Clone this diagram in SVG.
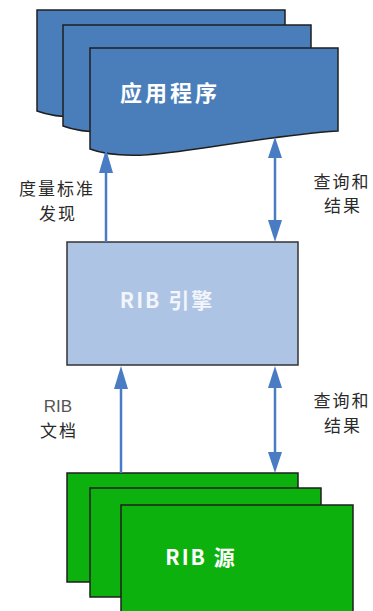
<svg xmlns="http://www.w3.org/2000/svg" width="373" height="611" viewBox="0 0 373 611">
<style>
.doc{fill:#4a7ebb;stroke:#1f1f1f;stroke-width:1.5}
.eng{fill:#aec4e4;stroke:#333;stroke-width:1.5}
.src{fill:#0db10d;stroke:#1f1f1f;stroke-width:1.5}
.ln{stroke:#4a7cc4;stroke-width:2.5;fill:none}
.ah{fill:#4a7cc4}
.lbl{font-family:"Noto Sans CJK SC","Noto Sans",sans-serif;font-size:17px;fill:#2a2a2a;text-anchor:middle;letter-spacing:2px}
.ttl{font-family:"Noto Sans CJK SC","Noto Sans",sans-serif;font-size:21px;font-weight:bold;fill:#fff;text-anchor:middle;letter-spacing:2px}
</style>
<defs>
<path id="docshape" d="M90,48 H338 V131 C230,138 140,168 90,149 Z"/>
</defs>
<g id="app">
<use href="#docshape" class="doc" transform="translate(-53,-38)"/>
<use href="#docshape" class="doc" transform="translate(-27,-23)"/>
<use href="#docshape" class="doc"/>
<text class="ttl" x="170" y="101" style="font-size:22px;letter-spacing:3px">应用程序</text>
</g>
<g id="engine">
<rect class="eng" x="67" y="242" width="231" height="123"/>
<text class="ttl" x="167" y="308" style="fill:#f2f5fb">RIB 引擎</text>
</g>
<g id="source">
<rect class="src" x="67" y="473" width="231" height="109"/>
<rect class="src" x="90" y="488" width="231" height="109"/>
<rect class="src" x="121" y="505" width="232" height="110"/>
<text class="ttl" x="201" y="565">RIB 源</text>
</g>
<g id="connectors">
<line class="ln" x1="106" y1="242" x2="106" y2="168"/>
<polygon class="ah" points="106,149 99,173 113,173"/>
<line class="ln" x1="275" y1="155" x2="275" y2="225"/>
<polygon class="ah" points="275,137 268,158 282,158"/>
<polygon class="ah" points="275,242 268,220 282,220"/>
<line class="ln" x1="121" y1="473" x2="121" y2="384"/>
<polygon class="ah" points="121,366 114,389 128,389"/>
<line class="ln" x1="275" y1="384" x2="275" y2="456"/>
<polygon class="ah" points="275,366 268,388 282,388"/>
<polygon class="ah" points="275,473 268,452 282,452"/>
</g>
<g id="labels">
<text class="lbl" x="57" y="195">度量标准</text>
<text class="lbl" x="58" y="220">发现</text>
<text class="lbl" x="342" y="188">查询和</text>
<text class="lbl" x="343" y="212">结果</text>
<text class="lbl" x="58" y="412" style="font-family:'Liberation Sans',sans-serif;font-size:17px;letter-spacing:0;fill:#555">RIB</text>
<text class="lbl" x="59" y="437">文档</text>
<text class="lbl" x="342" y="407">查询和</text>
<text class="lbl" x="343" y="432">结果</text>
</g>
</svg>
